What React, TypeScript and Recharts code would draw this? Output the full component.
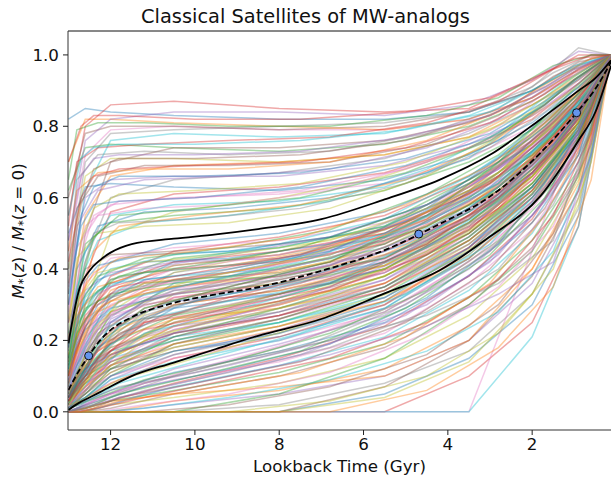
import React from 'react';
import { ComposedChart, Line, XAxis, YAxis, ReferenceLine } from 'recharts';

// Lookback times (Gyr) at which the first set of satellite tracks is sampled
const trackTimes = [13.0, 12.6, 12.0, 10.5, 8, 5.5, 3.5, 2, 0.9, 0.13];

// Individual satellite tracks, M*(z)/M*(z=0)
const highTracks: number[][] = [
  [0.82, 0.85, 0.84, 0.83, 0.82, 0.82, 0.84, 0.90, 0.97, 1],
  [0.55, 0.80, 0.86, 0.87, 0.85, 0.84, 0.85, 0.93, 1.00, 1],
  [0.45, 0.72, 0.79, 0.80, 0.79, 0.79, 0.82, 0.88, 0.95, 1],
  [0.30, 0.62, 0.76, 0.78, 0.77, 0.78, 0.83, 0.90, 0.97, 1],
  [0.62, 0.74, 0.75, 0.74, 0.73, 0.75, 0.80, 0.87, 0.95, 1],
  [0.20, 0.50, 0.70, 0.74, 0.74, 0.76, 0.81, 0.88, 0.96, 1],
  [0.40, 0.66, 0.71, 0.71, 0.70, 0.72, 0.77, 0.84, 0.93, 1],
  [0.25, 0.55, 0.66, 0.69, 0.70, 0.72, 0.77, 0.86, 0.94, 1],
  [0.35, 0.60, 0.65, 0.66, 0.66, 0.69, 0.75, 0.83, 0.92, 1],
  [0.15, 0.42, 0.60, 0.65, 0.67, 0.71, 0.78, 0.86, 0.93, 1],
  [0.50, 0.63, 0.64, 0.63, 0.62, 0.65, 0.72, 0.81, 0.91, 1],
  [0.10, 0.38, 0.56, 0.61, 0.63, 0.67, 0.74, 0.82, 0.92, 1],
  [0.30, 0.52, 0.58, 0.60, 0.61, 0.64, 0.71, 0.80, 0.90, 1],
  [0.22, 0.45, 0.55, 0.58, 0.59, 0.63, 0.71, 0.84, 0.94, 1],
  [0.18, 0.47, 0.53, 0.55, 0.57, 0.62, 0.70, 0.79, 0.89, 1],
  [0.60, 0.78, 0.80, 0.80, 0.79, 0.80, 0.84, 0.90, 0.98, 1],
  [0.12, 0.30, 0.50, 0.56, 0.60, 0.66, 0.74, 0.83, 0.91, 1],
  [0.70, 0.82, 0.82, 0.81, 0.80, 0.79, 0.82, 0.88, 0.96, 1],
  [0.48, 0.76, 0.82, 0.84, 0.84, 0.83, 0.86, 0.93, 1.01, 1],
  [0.38, 0.70, 0.78, 0.79, 0.80, 0.81, 0.84, 0.91, 1.02, 1],
];

const upperMidTracks: number[][] = [
  [0.15, 0.33, 0.42, 0.47, 0.50, 0.56, 0.66, 0.77, 0.88, 1],
  [0.08, 0.25, 0.38, 0.45, 0.49, 0.55, 0.65, 0.76, 0.87, 1],
  [0.20, 0.36, 0.43, 0.46, 0.48, 0.53, 0.63, 0.74, 0.86, 1],
  [0.05, 0.18, 0.33, 0.42, 0.47, 0.54, 0.66, 0.78, 0.89, 1],
  [0.12, 0.28, 0.37, 0.43, 0.46, 0.52, 0.62, 0.73, 0.85, 1],
  [0.25, 0.40, 0.44, 0.45, 0.47, 0.51, 0.61, 0.72, 0.84, 1],
  [0.04, 0.14, 0.28, 0.39, 0.45, 0.52, 0.64, 0.75, 0.87, 1],
  [0.10, 0.22, 0.34, 0.41, 0.44, 0.50, 0.60, 0.72, 0.85, 1],
  [0.18, 0.34, 0.39, 0.42, 0.43, 0.48, 0.59, 0.71, 0.85, 1],
  [0.07, 0.20, 0.31, 0.39, 0.43, 0.49, 0.61, 0.74, 0.86, 1],
  [0.03, 0.11, 0.25, 0.36, 0.42, 0.50, 0.63, 0.75, 0.88, 1],
  [0.14, 0.27, 0.35, 0.40, 0.42, 0.47, 0.58, 0.70, 0.83, 1],
  [0.09, 0.19, 0.30, 0.37, 0.41, 0.48, 0.59, 0.71, 0.84, 1],
  [0.22, 0.31, 0.36, 0.38, 0.40, 0.46, 0.57, 0.70, 0.84, 1],
  [0.06, 0.16, 0.27, 0.35, 0.40, 0.47, 0.60, 0.72, 0.85, 1],
  [0.11, 0.24, 0.32, 0.37, 0.39, 0.45, 0.56, 0.69, 0.82, 1],
  [0.02, 0.08, 0.21, 0.33, 0.39, 0.46, 0.58, 0.71, 0.86, 1],
  [0.16, 0.26, 0.31, 0.35, 0.38, 0.44, 0.55, 0.68, 0.82, 1],
  [0.05, 0.15, 0.26, 0.34, 0.38, 0.45, 0.57, 0.70, 0.84, 1],
  [0.08, 0.18, 0.28, 0.34, 0.37, 0.43, 0.54, 0.67, 0.82, 1],
  [0.13, 0.23, 0.29, 0.33, 0.36, 0.42, 0.53, 0.66, 0.81, 1],
  [0.04, 0.12, 0.23, 0.32, 0.36, 0.43, 0.55, 0.69, 0.83, 1],
  [0.10, 0.19, 0.27, 0.32, 0.35, 0.41, 0.52, 0.65, 0.80, 1],
  [0.07, 0.14, 0.24, 0.31, 0.35, 0.42, 0.54, 0.68, 0.82, 1],
  [0.19, 0.29, 0.33, 0.36, 0.38, 0.43, 0.56, 0.71, 0.86, 1],
  [0.03, 0.10, 0.20, 0.30, 0.34, 0.40, 0.53, 0.67, 0.83, 1],
  [0.12, 0.21, 0.28, 0.33, 0.36, 0.41, 0.51, 0.64, 0.79, 1],
  [0.06, 0.13, 0.22, 0.30, 0.34, 0.41, 0.54, 0.69, 0.84, 1],
  [0.09, 0.17, 0.25, 0.31, 0.33, 0.39, 0.50, 0.63, 0.78, 1],
  [0.15, 0.30, 0.37, 0.41, 0.44, 0.49, 0.60, 0.73, 0.86, 1],
  [0.04, 0.11, 0.19, 0.29, 0.33, 0.40, 0.52, 0.66, 0.81, 1],
  [0.11, 0.26, 0.36, 0.42, 0.45, 0.50, 0.62, 0.76, 0.88, 1],
  [0.08, 0.21, 0.33, 0.40, 0.44, 0.51, 0.63, 0.77, 0.89, 1],
  [0.17, 0.32, 0.40, 0.44, 0.46, 0.52, 0.64, 0.75, 0.86, 1],
];

const lowerMidTracks: number[][] = [
  [0.05, 0.12, 0.19, 0.27, 0.32, 0.40, 0.53, 0.67, 0.82, 1],
  [0.03, 0.09, 0.17, 0.26, 0.31, 0.39, 0.51, 0.66, 0.81, 1],
  [0.06, 0.13, 0.18, 0.25, 0.30, 0.38, 0.50, 0.64, 0.80, 1],
  [0.02, 0.07, 0.15, 0.24, 0.30, 0.38, 0.51, 0.66, 0.82, 1],
  [0.04, 0.10, 0.16, 0.23, 0.29, 0.37, 0.49, 0.63, 0.79, 1],
  [0.01, 0.06, 0.13, 0.22, 0.28, 0.36, 0.49, 0.64, 0.80, 1],
  [0.07, 0.12, 0.16, 0.22, 0.27, 0.35, 0.48, 0.62, 0.78, 1],
  [0.03, 0.08, 0.14, 0.21, 0.27, 0.36, 0.50, 0.65, 0.81, 1],
  [0.02, 0.05, 0.12, 0.20, 0.26, 0.34, 0.47, 0.61, 0.77, 1],
  [0.05, 0.11, 0.15, 0.20, 0.25, 0.33, 0.46, 0.61, 0.78, 1],
  [0.01, 0.04, 0.10, 0.19, 0.25, 0.34, 0.48, 0.63, 0.79, 1],
  [0.04, 0.09, 0.13, 0.18, 0.24, 0.32, 0.45, 0.60, 0.77, 1],
  [0.02, 0.06, 0.11, 0.18, 0.24, 0.33, 0.47, 0.62, 0.79, 1],
  [0.03, 0.07, 0.12, 0.17, 0.23, 0.31, 0.44, 0.59, 0.76, 1],
  [0.01, 0.03, 0.09, 0.16, 0.23, 0.32, 0.46, 0.62, 0.80, 1],
  [0.02, 0.05, 0.10, 0.16, 0.22, 0.30, 0.43, 0.58, 0.75, 1],
  [0.04, 0.08, 0.12, 0.17, 0.21, 0.29, 0.43, 0.59, 0.78, 1],
  [0.01, 0.04, 0.08, 0.15, 0.21, 0.30, 0.45, 0.61, 0.79, 1],
  [0.03, 0.06, 0.10, 0.15, 0.20, 0.28, 0.42, 0.57, 0.74, 1],
  [0.02, 0.04, 0.09, 0.14, 0.20, 0.29, 0.44, 0.60, 0.77, 1],
  [0.05, 0.10, 0.14, 0.20, 0.26, 0.35, 0.49, 0.63, 0.79, 1],
  [0.01, 0.05, 0.11, 0.19, 0.26, 0.35, 0.48, 0.62, 0.78, 1],
  [0.03, 0.08, 0.15, 0.24, 0.31, 0.40, 0.52, 0.66, 0.81, 1],
  [0.06, 0.14, 0.20, 0.26, 0.29, 0.36, 0.48, 0.62, 0.77, 1],
  [0.02, 0.06, 0.13, 0.21, 0.28, 0.37, 0.51, 0.67, 0.83, 1],
  [0.04, 0.11, 0.18, 0.24, 0.28, 0.35, 0.47, 0.61, 0.76, 1],
  [0.01, 0.04, 0.10, 0.17, 0.22, 0.31, 0.46, 0.63, 0.80, 1],
  [0.03, 0.09, 0.16, 0.22, 0.27, 0.34, 0.46, 0.60, 0.76, 1],
  [0.02, 0.07, 0.14, 0.23, 0.30, 0.39, 0.52, 0.67, 0.82, 1],
  [0.05, 0.12, 0.17, 0.21, 0.25, 0.32, 0.45, 0.61, 0.79, 1],
  [0.01, 0.05, 0.12, 0.21, 0.29, 0.38, 0.50, 0.64, 0.79, 1],
  [0.04, 0.10, 0.17, 0.25, 0.33, 0.42, 0.54, 0.67, 0.81, 1],
  [0.02, 0.08, 0.16, 0.26, 0.33, 0.41, 0.53, 0.66, 0.80, 1],
  [0.03, 0.07, 0.13, 0.19, 0.24, 0.31, 0.43, 0.58, 0.76, 1],
];

const lowTracks: number[][] = [
  [0.00, 0.02, 0.05, 0.12, 0.19, 0.27, 0.40, 0.55, 0.73, 1],
  [0.00, 0.01, 0.04, 0.10, 0.18, 0.28, 0.41, 0.55, 0.72, 1],
  [0.01, 0.03, 0.06, 0.11, 0.17, 0.25, 0.38, 0.53, 0.72, 1],
  [0.00, 0.01, 0.03, 0.08, 0.15, 0.24, 0.38, 0.54, 0.74, 1],
  [0.00, 0.02, 0.05, 0.09, 0.14, 0.22, 0.36, 0.51, 0.70, 1],
  [0.00, 0.00, 0.02, 0.07, 0.13, 0.21, 0.34, 0.50, 0.70, 1],
  [0.00, 0.01, 0.03, 0.06, 0.11, 0.19, 0.32, 0.48, 0.68, 1],
  [0.00, 0.00, 0.01, 0.05, 0.10, 0.18, 0.30, 0.46, 0.67, 1],
  [0.00, 0.00, 0.02, 0.04, 0.08, 0.15, 0.27, 0.43, 0.65, 1],
  [0.00, 0.00, 0.00, 0.03, 0.06, 0.12, 0.24, 0.40, 0.62, 1],
  [0.00, 0.00, 0.00, 0.02, 0.05, 0.10, 0.20, 0.36, 0.60, 1],
  [0.00, 0.00, 0.00, 0.00, 0.02, 0.08, 0.17, 0.33, 0.57, 1],
  [0.00, 0.00, 0.00, 0.00, 0.00, 0.05, 0.15, 0.30, 0.55, 1],
  [0.00, 0.00, 0.00, 0.00, 0.00, 0.00, 0.10, 0.25, 0.52, 1],
  [0.00, 0.00, 0.00, 0.00, 0.00, 0.00, 0.00, 0.45, 0.80, 1],
  [0.00, 0.00, 0.00, 0.00, 0.00, 0.00, 0.00, 0.21, 0.52, 1],
  [0.00, 0.00, 0.00, 0.00, 0.05, 0.15, 0.30, 0.45, 0.66, 1],
  [0.00, 0.00, 0.00, 0.00, 0.00, 0.07, 0.20, 0.38, 0.62, 1],
  [0.00, 0.00, 0.00, 0.00, 0.00, 0.04, 0.14, 0.33, 0.58, 1],
  [0.00, 0.01, 0.03, 0.05, 0.07, 0.10, 0.20, 0.40, 0.64, 1],
];

// Second set of tracks, sampled at different lookback times
const extraTimes = [13.0, 12.8, 12.3, 11.2, 9.2, 6.8, 4.5, 2.8, 1.5, 0.6, 0.13];
const extraTracks: number[][] = [
  [0.09, 0.20, 0.33, 0.40, 0.44, 0.49, 0.58, 0.68, 0.80, 0.91, 1],
  [0.03, 0.09, 0.21, 0.31, 0.37, 0.43, 0.53, 0.64, 0.78, 0.90, 1],
  [0.12, 0.26, 0.37, 0.42, 0.43, 0.47, 0.55, 0.66, 0.79, 0.91, 1],
  [0.01, 0.05, 0.14, 0.25, 0.32, 0.39, 0.50, 0.62, 0.76, 0.88, 1],
  [0.06, 0.15, 0.27, 0.35, 0.39, 0.44, 0.54, 0.65, 0.80, 0.92, 1],
  [0.02, 0.06, 0.16, 0.26, 0.31, 0.36, 0.46, 0.59, 0.74, 0.87, 1],
  [0.15, 0.29, 0.38, 0.43, 0.46, 0.51, 0.61, 0.72, 0.84, 0.93, 1],
  [0.04, 0.11, 0.22, 0.30, 0.34, 0.40, 0.51, 0.63, 0.77, 0.89, 1],
  [0.00, 0.03, 0.10, 0.20, 0.27, 0.34, 0.45, 0.58, 0.74, 0.88, 1],
  [0.08, 0.17, 0.28, 0.34, 0.37, 0.42, 0.52, 0.63, 0.77, 0.90, 1],
  [0.05, 0.13, 0.24, 0.33, 0.38, 0.45, 0.56, 0.68, 0.81, 0.92, 1],
  [0.02, 0.07, 0.18, 0.28, 0.33, 0.38, 0.48, 0.60, 0.75, 0.88, 1],
  [0.18, 0.34, 0.41, 0.44, 0.45, 0.49, 0.58, 0.70, 0.83, 0.94, 1],
  [0.03, 0.08, 0.17, 0.25, 0.29, 0.35, 0.47, 0.61, 0.77, 0.90, 1],
  [0.07, 0.16, 0.26, 0.32, 0.35, 0.41, 0.53, 0.66, 0.80, 0.91, 1],
  [0.01, 0.04, 0.12, 0.22, 0.28, 0.36, 0.49, 0.63, 0.79, 0.91, 1],
  [0.10, 0.22, 0.31, 0.36, 0.38, 0.43, 0.52, 0.62, 0.75, 0.88, 1],
  [0.04, 0.10, 0.20, 0.29, 0.35, 0.42, 0.54, 0.67, 0.82, 0.93, 1],
  [0.02, 0.06, 0.13, 0.21, 0.26, 0.32, 0.43, 0.56, 0.72, 0.86, 1],
  [0.13, 0.27, 0.35, 0.39, 0.41, 0.46, 0.56, 0.69, 0.83, 0.93, 1],
  [0.05, 0.12, 0.23, 0.31, 0.36, 0.41, 0.50, 0.61, 0.75, 0.88, 1],
  [0.01, 0.05, 0.15, 0.27, 0.34, 0.41, 0.52, 0.64, 0.79, 0.91, 1],
  [0.08, 0.19, 0.30, 0.37, 0.40, 0.45, 0.57, 0.71, 0.85, 0.94, 1],
  [0.03, 0.07, 0.15, 0.23, 0.28, 0.34, 0.44, 0.57, 0.73, 0.87, 1],
  [0.06, 0.14, 0.25, 0.33, 0.37, 0.43, 0.55, 0.69, 0.84, 0.93, 1],
  [0.11, 0.24, 0.34, 0.39, 0.41, 0.44, 0.53, 0.64, 0.78, 0.90, 1],
  [0.02, 0.08, 0.19, 0.29, 0.35, 0.42, 0.55, 0.70, 0.85, 0.95, 1],
  [0.04, 0.09, 0.18, 0.26, 0.30, 0.36, 0.47, 0.60, 0.76, 0.89, 1],
  [0.16, 0.31, 0.39, 0.42, 0.44, 0.48, 0.57, 0.67, 0.80, 0.91, 1],
  [0.07, 0.18, 0.29, 0.36, 0.39, 0.44, 0.54, 0.66, 0.81, 0.92, 1],
  [0.25, 0.52, 0.62, 0.65, 0.66, 0.68, 0.74, 0.82, 0.92, 0.98, 1],
  [0.40, 0.65, 0.72, 0.73, 0.72, 0.73, 0.78, 0.85, 0.95, 1.00, 1],
  [0.18, 0.40, 0.52, 0.56, 0.57, 0.60, 0.67, 0.76, 0.88, 0.96, 1],
  [0.52, 0.70, 0.74, 0.75, 0.76, 0.77, 0.81, 0.87, 0.96, 1.00, 1],
  [0.28, 0.46, 0.55, 0.57, 0.58, 0.62, 0.70, 0.80, 0.91, 0.97, 1],
  [0.12, 0.35, 0.48, 0.53, 0.55, 0.59, 0.68, 0.78, 0.90, 0.97, 1],
  [0.65, 0.79, 0.81, 0.81, 0.80, 0.80, 0.83, 0.88, 0.97, 1.00, 1],
  [0.33, 0.57, 0.66, 0.69, 0.69, 0.70, 0.75, 0.83, 0.94, 0.99, 1],
  [0.21, 0.43, 0.50, 0.52, 0.53, 0.57, 0.66, 0.77, 0.89, 0.96, 1],
  [0.45, 0.62, 0.67, 0.68, 0.68, 0.70, 0.76, 0.84, 0.93, 0.99, 1],
  [0.00, 0.01, 0.04, 0.08, 0.13, 0.20, 0.30, 0.44, 0.62, 0.82, 1],
  [0.00, 0.00, 0.02, 0.06, 0.11, 0.18, 0.28, 0.40, 0.58, 0.79, 1],
  [0.00, 0.01, 0.03, 0.07, 0.12, 0.19, 0.32, 0.47, 0.66, 0.85, 1],
  [0.00, 0.00, 0.01, 0.04, 0.09, 0.15, 0.25, 0.37, 0.55, 0.78, 1],
  [0.00, 0.00, 0.00, 0.02, 0.05, 0.11, 0.22, 0.35, 0.52, 0.76, 1],
  [0.00, 0.00, 0.00, 0.01, 0.04, 0.09, 0.17, 0.28, 0.45, 0.72, 1],
  [0.01, 0.02, 0.04, 0.09, 0.14, 0.22, 0.34, 0.48, 0.64, 0.83, 1],
  [0.00, 0.00, 0.00, 0.00, 0.02, 0.07, 0.16, 0.30, 0.50, 0.75, 1],
  [0.00, 0.00, 0.00, 0.00, 0.00, 0.03, 0.10, 0.22, 0.40, 0.70, 1],
  [0.00, 0.00, 0.00, 0.00, 0.00, 0.00, 0.06, 0.18, 0.35, 0.65, 1],
  [0.00, 0.00, 0.01, 0.05, 0.10, 0.16, 0.24, 0.33, 0.42, 0.72, 1],
  [0.00, 0.01, 0.03, 0.08, 0.14, 0.20, 0.27, 0.36, 0.48, 0.80, 1],
];

// Third set of tracks, sampled at yet other lookback times
const thirdTimes = [13.0, 12.7, 12.4, 11.8, 10, 7.5, 5, 3, 1.7, 1.0, 0.13];
const thirdTracks: number[][] = [
  [0.30, 0.55, 0.63, 0.66, 0.66, 0.67, 0.71, 0.78, 0.87, 0.93, 1],
  [0.42, 0.60, 0.66, 0.68, 0.69, 0.70, 0.74, 0.81, 0.89, 0.95, 1],
  [0.20, 0.44, 0.55, 0.59, 0.60, 0.62, 0.68, 0.76, 0.85, 0.92, 1],
  [0.55, 0.71, 0.74, 0.75, 0.75, 0.76, 0.79, 0.84, 0.92, 0.97, 1],
  [0.14, 0.36, 0.49, 0.55, 0.57, 0.60, 0.67, 0.76, 0.86, 0.93, 1],
  [0.36, 0.58, 0.68, 0.71, 0.71, 0.72, 0.76, 0.83, 0.91, 0.96, 1],
  [0.26, 0.48, 0.57, 0.61, 0.62, 0.64, 0.70, 0.79, 0.88, 0.94, 1],
  [0.10, 0.30, 0.45, 0.52, 0.55, 0.58, 0.65, 0.75, 0.86, 0.93, 1],
  [0.48, 0.66, 0.71, 0.72, 0.72, 0.73, 0.77, 0.83, 0.91, 0.96, 1],
  [0.17, 0.38, 0.50, 0.53, 0.54, 0.57, 0.64, 0.74, 0.84, 0.91, 1],
  [0.33, 0.52, 0.58, 0.59, 0.60, 0.63, 0.69, 0.77, 0.86, 0.93, 1],
  [0.70, 0.80, 0.83, 0.83, 0.82, 0.82, 0.84, 0.88, 0.95, 0.99, 1],
  [0.00, 0.01, 0.03, 0.06, 0.12, 0.20, 0.31, 0.46, 0.63, 0.76, 1],
  [0.01, 0.02, 0.04, 0.08, 0.14, 0.22, 0.33, 0.47, 0.64, 0.78, 1],
  [0.00, 0.01, 0.02, 0.05, 0.10, 0.17, 0.29, 0.44, 0.60, 0.74, 1],
  [0.00, 0.00, 0.01, 0.04, 0.08, 0.14, 0.25, 0.40, 0.57, 0.72, 1],
  [0.02, 0.03, 0.05, 0.09, 0.15, 0.24, 0.35, 0.49, 0.65, 0.79, 1],
  [0.00, 0.00, 0.01, 0.03, 0.06, 0.11, 0.21, 0.36, 0.55, 0.70, 1],
  [0.00, 0.01, 0.02, 0.04, 0.09, 0.16, 0.27, 0.42, 0.59, 0.75, 1],
  [0.01, 0.02, 0.04, 0.07, 0.11, 0.18, 0.30, 0.45, 0.62, 0.77, 1],
  [0.04, 0.10, 0.16, 0.24, 0.31, 0.37, 0.47, 0.59, 0.72, 0.82, 1],
  [0.10, 0.21, 0.29, 0.35, 0.39, 0.44, 0.53, 0.64, 0.77, 0.86, 1],
  [0.02, 0.05, 0.10, 0.18, 0.26, 0.34, 0.45, 0.58, 0.72, 0.83, 1],
  [0.07, 0.16, 0.24, 0.31, 0.36, 0.42, 0.52, 0.63, 0.76, 0.85, 1],
  [0.13, 0.26, 0.33, 0.38, 0.41, 0.46, 0.56, 0.68, 0.80, 0.88, 1],
  [0.03, 0.08, 0.14, 0.22, 0.29, 0.36, 0.46, 0.58, 0.71, 0.81, 1],
  [0.05, 0.13, 0.22, 0.31, 0.37, 0.43, 0.53, 0.65, 0.78, 0.87, 1],
  [0.20, 0.33, 0.39, 0.43, 0.45, 0.49, 0.58, 0.69, 0.81, 0.89, 1],
  [0.01, 0.04, 0.09, 0.17, 0.24, 0.32, 0.43, 0.56, 0.70, 0.81, 1],
  [0.08, 0.18, 0.27, 0.34, 0.38, 0.44, 0.55, 0.67, 0.79, 0.87, 1],
];

// 16th / 50th / 84th percentile curves
const boundTimes = [13.0, 12.75, 12.5, 12.25, 12.0, 11.5, 10.5, 9.5, 8.5, 7.0, 5.5, 4.2, 3.0, 1.8, 0.9, 0.5, 0.13];
const upperBound = [0.192, 0.34, 0.395, 0.425, 0.446, 0.47, 0.485, 0.497, 0.512, 0.54, 0.595, 0.65, 0.72, 0.82, 0.9, 0.935, 0.985];
const medianCurve = [0.061, 0.115, 0.16, 0.2, 0.229, 0.265, 0.305, 0.329, 0.349, 0.395, 0.453, 0.526, 0.603, 0.726, 0.845, 0.905, 0.98];
const lowerBound = [0.005, 0.025, 0.04, 0.055, 0.071, 0.1, 0.138, 0.176, 0.213, 0.26, 0.332, 0.396, 0.491, 0.605, 0.76, 0.84, 0.97];

const markerTimes = [12.52, 4.69, 0.946];
const markerValues = [0.157, 0.498, 0.838];

const xTicks = [12, 10, 8, 6, 4, 2];
const yTicks = [0, 0.2, 0.4, 0.6, 0.8, 1.0];

const palette = ['#1f77b4', '#ff7f0e', '#2ca02c', '#d62728', '#9467bd', '#8c564b', '#e377c2', '#7f7f7f', '#bcbd22', '#17becf'];

const toSeries = (times: number[], vals: number[]) => times.map((t, i) => ({ t, v: vals[i] }));

const FONT = 'DejaVu Sans, sans-serif';
const W = 611;
const H = 485;

export default function App() {
  const firstSet = [...highTracks, ...upperMidTracks, ...lowerMidTracks, ...lowTracks];
  const trackSeries = [
    ...firstSet.map((tr) => toSeries(trackTimes, tr)),
    ...extraTracks.map((tr) => toSeries(extraTimes, tr)),
    ...thirdTracks.map((tr) => toSeries(thirdTimes, tr)),
  ];
  return (
    <div style={{ position: 'absolute', left: 0, top: 0, width: W, height: H, background: '#fff' }}>
      <ComposedChart width={W} height={H} margin={{ top: 31, right: 0, bottom: 0, left: 0 }}>
        <XAxis
          type="number"
          dataKey="t"
          domain={[0.13, 13.01]}
          reversed
          allowDataOverflow
          ticks={xTicks}
          height={55}
          tickSize={5}
          tickMargin={3}
          axisLine={{ stroke: '#333', strokeWidth: 1 }}
          tickLine={{ stroke: '#222' }}
          tick={{ fill: '#111', fontSize: 16.7, fontFamily: FONT }}
        />
        <YAxis
          type="number"
          dataKey="v"
          domain={[-0.051, 1.067]}
          allowDataOverflow
          ticks={yTicks}
          width={68}
          tickSize={5}
          tickMargin={4}
          tickFormatter={(v: number) => v.toFixed(1)}
          axisLine={{ stroke: '#333', strokeWidth: 1 }}
          tickLine={{ stroke: '#222' }}
          tick={{ fill: '#111', fontSize: 16.7, fontFamily: FONT }}
        />
        {trackSeries.map((d, i) => (
          <Line
            key={'tr' + i}
            data={d}
            dataKey="v"
            type="linear"
            stroke={palette[(i * 3) % 10]}
            strokeOpacity={0.4}
            strokeWidth={1.5}
            dot={false}
            activeDot={false}
            isAnimationActive={false}
          />
        ))}
        <Line data={toSeries(boundTimes, upperBound)} dataKey="v" type="monotone" stroke="#000" strokeWidth={1.8} dot={false} activeDot={false} isAnimationActive={false} />
        <Line data={toSeries(boundTimes, lowerBound)} dataKey="v" type="monotone" stroke="#000" strokeWidth={1.8} dot={false} activeDot={false} isAnimationActive={false} />
        <Line data={toSeries(boundTimes, medianCurve)} dataKey="v" type="monotone" stroke="#000" strokeWidth={1.8} strokeDasharray="6 3" dot={false} activeDot={false} isAnimationActive={false} />
        <Line
          data={toSeries(markerTimes, markerValues)}
          dataKey="v"
          stroke="none"
          dot={{ r: 4, fill: '#6495ed', stroke: '#111', strokeWidth: 1 }}
          activeDot={false}
          isAnimationActive={false}
        />
        <ReferenceLine y={1.067} stroke="#111" strokeWidth={1} ifOverflow="visible" />
      </ComposedChart>
      <svg width={W} height={H} style={{ position: 'absolute', left: 0, top: 0, pointerEvents: 'none' }}>
        <text x={305.5} y={23} textAnchor="middle" fontFamily={FONT} fontSize={19.4} fill="#111">
          Classical Satellites of MW-analogs
        </text>
        <text x={339.5} y={472} textAnchor="middle" fontFamily={FONT} fontSize={16.7} fill="#111">
          Lookback Time (Gyr)
        </text>
        <text transform="translate(24,231) rotate(-90)" textAnchor="middle" fontFamily={FONT} fontSize={16.7} fill="#111">
          <tspan fontStyle="italic">M</tspan>
          <tspan fontSize={11.5} dy={3}>*</tspan>
          <tspan dy={-3}>(</tspan>
          <tspan fontStyle="italic">z</tspan>
          <tspan>) / </tspan>
          <tspan fontStyle="italic">M</tspan>
          <tspan fontSize={11.5} dy={3}>*</tspan>
          <tspan dy={-3}>(</tspan>
          <tspan fontStyle="italic">z</tspan>
          <tspan> = 0)</tspan>
        </text>
      </svg>
    </div>
  );
}
